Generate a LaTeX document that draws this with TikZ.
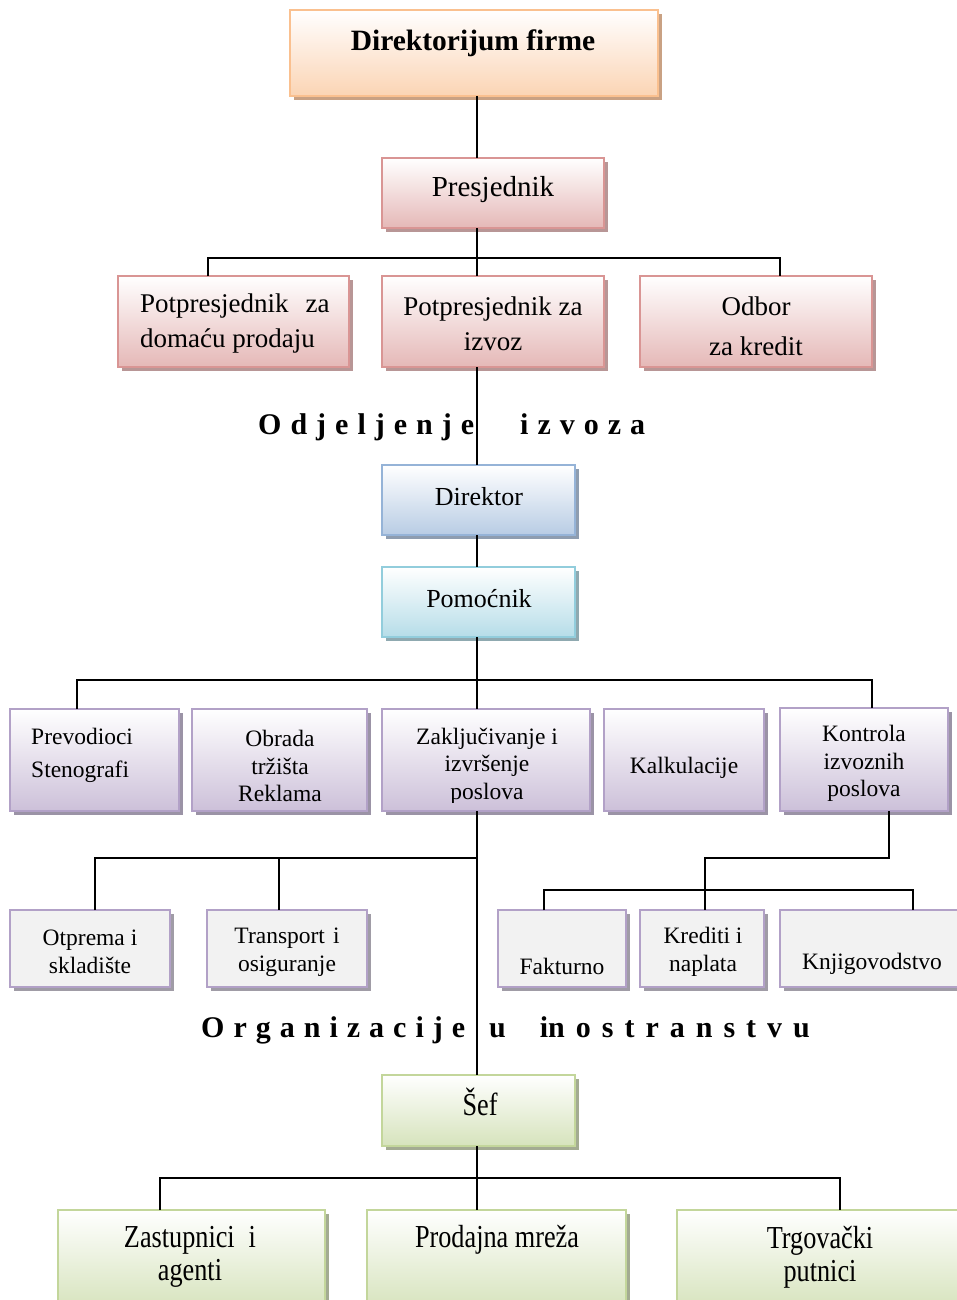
\documentclass[tikz,border=0pt]{standalone}
\usepackage{fontspec}
\setmainfont{Liberation Serif}
\newfontfamily\narrowserif[FakeStretch=0.82]{Liberation Serif}
\usetikzlibrary{shadows}

% box palettes: border, lower fill, shadow
\definecolor{peachline}{HTML}{FAC08F}
\definecolor{peachfill}{HTML}{FBD4B4}
\definecolor{peachshadow}{HTML}{C9A183}
\definecolor{redline}{HTML}{D99594}
\definecolor{redfill}{HTML}{E5B8B7}
\definecolor{redshadow}{HTML}{B89696}
\definecolor{blueline}{HTML}{95B3D7}
\definecolor{bluefill}{HTML}{B8CCE4}
\definecolor{blueshadow}{HTML}{8E9DB0}
\definecolor{aqualine}{HTML}{92CDDC}
\definecolor{aquafill}{HTML}{B6DDE8}
\definecolor{aquashadow}{HTML}{8FA9B0}
\definecolor{lilacline}{HTML}{B2A1C7}
\definecolor{lilacfill}{HTML}{CCC0D9}
\definecolor{lilacshadow}{HTML}{9B93A6}
\definecolor{greyfill}{HTML}{F2F2F2}
\definecolor{greyshadow}{HTML}{A09CA6}
\definecolor{greenline}{HTML}{C3D69B}
\definecolor{greenfill}{HTML}{D6E3BC}
\definecolor{greenshadow}{HTML}{A3AB92}

\newcommand\lsp{\hspace{9pt}}
\newcommand\wsp{\hspace{11pt}}

\tikzset{
  x=1pt, y=-1pt,
  orgbox/.style={rectangle, draw, line width=2.2pt, anchor=north west,
    inner sep=0pt, outer sep=0pt},
  peachbox/.style={orgbox, draw=peachline, top color=white, bottom color=peachfill,
    drop shadow={shadow xshift=4pt, shadow yshift=-4pt, fill=peachshadow, opacity=1}},
  redbox/.style={orgbox, draw=redline, top color=white, bottom color=redfill,
    drop shadow={shadow xshift=4pt, shadow yshift=-4pt, fill=redshadow, opacity=1}},
  bluebox/.style={orgbox, draw=blueline, top color=white, bottom color=bluefill,
    drop shadow={shadow xshift=4pt, shadow yshift=-4pt, fill=blueshadow, opacity=1}},
  aquabox/.style={orgbox, draw=aqualine, top color=white, bottom color=aquafill,
    drop shadow={shadow xshift=4pt, shadow yshift=-4pt, fill=aquashadow, opacity=1}},
  lilacbox/.style={orgbox, draw=lilacline, top color=white, bottom color=lilacfill,
    drop shadow={shadow xshift=4pt, shadow yshift=-4pt, fill=lilacshadow, opacity=1}},
  greybox/.style={orgbox, draw=lilacline, fill=greyfill,
    drop shadow={shadow xshift=4pt, shadow yshift=-4pt, fill=greyshadow, opacity=1}},
  greenbox/.style={orgbox, draw=greenline, top color=white, bottom color=greenfill,
    drop shadow={shadow xshift=4pt, shadow yshift=-4pt, fill=greenshadow, opacity=1}},
  label/.style={inner sep=0pt, align=center},
  bigtxt/.style={label, font=\fontsize{27}{35}\selectfont},
  midtxt/.style={label, font=\fontsize{26}{33}\selectfont},
  smalltxt/.style={label, font=\fontsize{23.5}{27.5}\selectfont},
  greentxt/.style={label, font=\narrowserif\fontsize{32}{33}\selectfont},
  spaced/.style={inner sep=0pt, font=\bfseries\fontsize{30}{32}\selectfont},
  link/.style={line width=1.8pt, black},
}

\begin{document}
\begin{tikzpicture}
\useasboundingbox (0,0) rectangle (957,1300);

% ---- boxes ----
\node[peachbox, minimum width=368pt, minimum height=86pt] (top) at (290,10) {};
\node[redbox, minimum width=222pt, minimum height=70pt] (pres) at (382,158) {};
\node[redbox, minimum width=231pt, minimum height=91pt] (dom) at (118,276) {};
\node[redbox, minimum width=222pt, minimum height=91pt] (izv) at (382,276) {};
\node[redbox, minimum width=232pt, minimum height=91pt] (odb) at (640,276) {};
\node[bluebox, minimum width=193pt, minimum height=70pt] (dir) at (382,465) {};
\node[aquabox, minimum width=193pt, minimum height=70pt] (pom) at (382,567) {};
\node[lilacbox, minimum width=169pt, minimum height=102pt] (prev) at (10,709) {};
\node[lilacbox, minimum width=175pt, minimum height=102pt] (obr) at (192,709) {};
\node[lilacbox, minimum width=208pt, minimum height=102pt] (zak) at (382,709) {};
\node[lilacbox, minimum width=160pt, minimum height=102pt] (kal) at (604,709) {};
\node[lilacbox, minimum width=168pt, minimum height=103pt] (kon) at (780,708) {};
\node[greybox, minimum width=160pt, minimum height=77pt] (otp) at (10,910) {};
\node[greybox, minimum width=160pt, minimum height=77pt] (tra) at (207,910) {};
\node[greybox, minimum width=128pt, minimum height=77pt] (fak) at (498,910) {};
\node[greybox, minimum width=124pt, minimum height=77pt] (kre) at (640,910) {};
\node[greybox, minimum width=185pt, minimum height=77pt] (knj) at (780,910) {};
\node[greenbox, minimum width=193pt, minimum height=71pt] (sef) at (382,1075) {};
\node[greenbox, minimum width=267pt, minimum height=100pt] (zas) at (58,1210) {};
\node[greenbox, minimum width=259pt, minimum height=100pt] (prod) at (367,1210) {};
\node[greenbox, minimum width=290pt, minimum height=100pt] (trg) at (677,1210) {};

% ---- junction points ----
\coordinate (trunk) at (477,0);
\coordinate (b1L) at (208,258);
\coordinate (b1R) at (780,258);
\coordinate (b2L) at (77,680);
\coordinate (b2R) at (872,680);
\coordinate (b3L) at (95,858);
\coordinate (b3M) at (279,858);
\coordinate (b3R) at (477,858);
\coordinate (k1) at (889,858);
\coordinate (k2) at (705,858);
\coordinate (b4L) at (544,890);
\coordinate (b4R) at (913,890);
\coordinate (b5L) at (160,1178);
\coordinate (b5R) at (840,1178);

% ---- connectors ----
\draw[link] (top.south -| trunk) -- (pres.north -| trunk);
\draw[link] (pres.south -| trunk) -- (izv.north -| trunk);
\draw[link] (b1L |- dom.north) -- (b1L) -- (b1R) -- (b1R |- odb.north);
\draw[link] (izv.south -| trunk) -- (dir.north -| trunk);
\draw[link] (dir.south -| trunk) -- (pom.north -| trunk);
\draw[link] (pom.south -| trunk) -- (zak.north -| trunk);
\draw[link] (b2L |- prev.north) -- (b2L) -- (b2R) -- (b2R |- kon.north);
\draw[link] (zak.south -| trunk) -- (sef.north -| trunk);
\draw[link] (b3L |- otp.north) -- (b3L) -- (b3R);
\draw[link] (b3M) -- (b3M |- tra.north);
\draw[link] (k1 |- kon.south) -- (k1) -- (k2) -- (k2 |- kre.north);
\draw[link] (b4L |- fak.north) -- (b4L) -- (b4R) -- (b4R |- knj.north);
\draw[link] (sef.south -| trunk) -- (prod.north -| trunk);
\draw[link] (b5L |- zas.north) -- (b5L) -- (b5R) -- (b5R |- trg.north);

% ---- texts ----
\node[label, font=\bfseries\fontsize{29.5}{32}\selectfont] (ttop) at (473,43) {Direktorijum firme};
\node[label, font=\fontsize{29}{35}\selectfont] (tpres) at (493,190) {Presjednik};
\node[bigtxt, anchor=west, align=left] (tdom) at (140,324) {Potpresjednik\hspace{17pt}za\\doma\'cu prodaju};
\node[bigtxt] (tizv) at (493,324) {Potpresjednik za\\izvoz};
\node[label, font=\fontsize{27}{40}\selectfont] (todb) at (756,326) {Odbor\\za kredit};
\node[spaced, anchor=west] (todj) at (258,427) {O\lsp d\lsp j\lsp e\lsp l\lsp j\lsp e\lsp n\lsp j\lsp e\hspace{46pt}i\lsp z\lsp v\lsp o\lsp z\lsp a};
\node[midtxt] (tdir) at (479,497) {Direktor};
\node[midtxt] (tpom) at (479,599) {Pomo\'cnik};
\node[label, anchor=west, align=left, font=\fontsize{23.5}{33}\selectfont] (tprev) at (31,755) {Prevodioci\\Stenografi};
\node[smalltxt] (tobr) at (280,766) {Obrada\\tr\v zi\v sta\\Reklama};
\begin{scope}
  \clip (382,709) rectangle (590,802);
  \node[smalltxt] (tzak) at (487,766) {Zaklju\v civanje i\\izvr\v senje\\poslova};
\end{scope}
\node[smalltxt] (tkal) at (684,768) {Kalkulacije};
\node[smalltxt] (tkon) at (864,763.5) {Kontrola\\izvoznih\\poslova};
\node[smalltxt] (totp) at (90,952) {Otprema i\\skladi\v ste};
\node[smalltxt] (ttra) at (287,952) {Transport\hspace{8pt}i\\osiguranje};
\node[smalltxt] (tfak) at (562,966) {Fakturno};
\node[smalltxt] (tkre) at (703,952) {Krediti i\\naplata};
\node[smalltxt] (tknj) at (872,964) {Knjigovodstvo};
\node[spaced, anchor=west] (torg) at (201,1030) {O\lsp r\lsp g\lsp a\lsp n\lsp i\lsp z\lsp a\lsp c\lsp i\lsp j\lsp e\hspace{24pt}u\hspace{34pt}in\wsp o\wsp s\wsp t\wsp r\wsp a\wsp n\wsp s\wsp t\wsp v\wsp u};
\node[greentxt] (tsef) at (480,1102) {\v Sef};
\node[greentxt] (tzas) at (190,1257) {Zastupnici\hspace{14pt}i\\agenti};
\node[greentxt] (tprod) at (497,1240) {Prodajna mre\v za};
\node[greentxt] (ttrg) at (820,1257) {Trgova\v cki\\putnici};
\end{tikzpicture}
\end{document}
